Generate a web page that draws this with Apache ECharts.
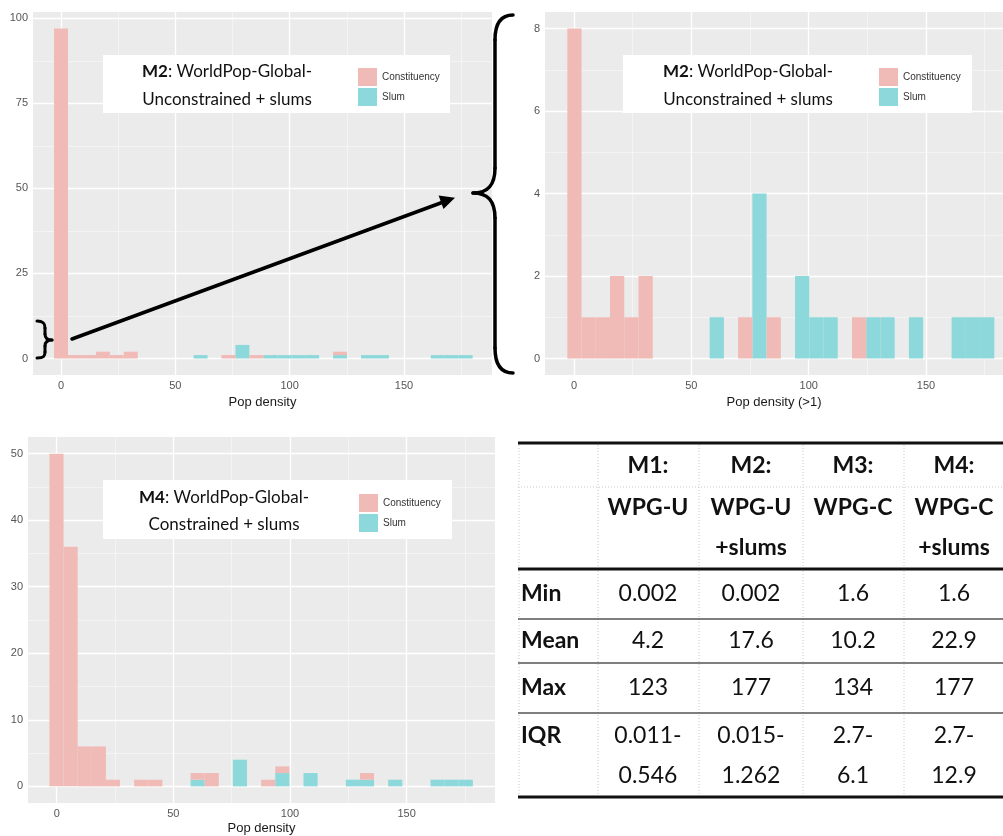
<!DOCTYPE html>
<html><head><meta charset="utf-8">
<script src="https://cdn.jsdelivr.net/npm/echarts@6/dist/echarts.min.js"></script>
<style>html,body{margin:0;padding:0;background:#fff}#c{width:1003px;height:836px}</style>
</head><body><div id="c"></div>
<script>
// ---------- DATA ----------
// Panel 1: M2 all values, 30 bins
const p1BinStart = -3.05, p1BinWidth = 6.103;
const p1Constituency = [97,1,1,2,1,2,0,0,0,0,0,0,1,0,1,0,0,0,0,0,1,0,0,0,0,0,0,0,0,0];
const p1Slum         = [0,0,0,0,0,0,0,0,0,0,1,0,0,4,0,1,1,1,1,0,1,0,1,1,0,0,0,1,1,1];
// Panel 2: M2 pop density > 1
const p2BinStart = -2.85, p2BinWidth = 6.065;
const p2Constituency = [8,1,1,2,1,2,0,0,0,0,0,0,1,0,1,0,0,0,0,0,1,0,0,0,0,0,0,0,0,0];
const p2Slum         = [0,0,0,0,0,0,0,0,0,0,1,0,0,4,0,0,2,1,1,0,0,1,1,0,1,0,0,1,1,1];
// Panel 3: M4
const p3BinStart = -3.1, p3BinWidth = 6.05;
const p3Constituency = [50,36,6,6,1,0,1,1,0,0,1,2,0,0,0,1,1,0,0,0,0,0,1,0,0,0,0,0,0,0];
const p3Slum         = [0,0,0,0,0,0,0,0,0,0,1,0,0,4,0,0,2,0,2,0,0,1,1,0,1,0,0,1,1,1];

const xTicks = [0,50,100,150];
const xMinor = [25,75,125,175];
const p1YTicks = [0,25,50,75,100];
const p1YMinor = [12.5,37.5,62.5,87.5];
const p2YTicks = [0,2,4,6,8];
const p2YMinor = [1,3,5,7];
const p3YTicks = [0,10,20,30,40,50];
const p3YMinor = [5,15,25,35,45];

const seriesNames = ['Constituency','Slum'];
const p1Title = ['M2', ': WorldPop-Global-', 'Unconstrained + slums'];
const p2Title = ['M2', ': WorldPop-Global-', 'Unconstrained + slums'];
const p3Title = ['M4', ': WorldPop-Global-', 'Constrained + slums'];
const p1XName = 'Pop density', p2XName = 'Pop density (>1)', p3XName = 'Pop density';

const tableHeaders = [['M1:','WPG-U',''],['M2:','WPG-U','+slums'],['M3:','WPG-C',''],['M4:','WPG-C','+slums']];
const tableRowLabels = ['Min','Mean','Max','IQR'];
const tableMin  = ['0.002','0.002','1.6','1.6'];
const tableMean = ['4.2','17.6','10.2','22.9'];
const tableMax  = ['123','177','134','177'];
const tableIQR  = [['0.011-','0.546'],['0.015-','1.262'],['2.7-','6.1'],['2.7-','12.9']];

// ---------- STYLE ----------
const PINK = '#F0BAB6', CYAN = '#8DD8DA', BG = '#EBEBEB';
const FONT = 'Lato';

function renderBar(params, api) {
  const x0 = api.value(0), x1 = api.value(1), y0 = api.value(2), y1 = api.value(3);
  if (!(y1 > y0)) return null;
  const a = api.coord([x0, y1]), b = api.coord([x1, y0]);
  return { type: 'rect', shape: { x: a[0], y: a[1], width: b[0] - a[0], height: b[1] - a[1] },
           style: { fill: api.visual('color') } };
}
function barData(start, width, bottomArr, topArr, isTop) {
  return topArr.map((v, k) => {
    const base = isTop ? bottomArr[k] : 0;
    return [start + k * width, start + (k + 1) * width, base, base + v];
  });
}
function gridLines(xMaj, xMin, yMaj, yMin) {
  const maj = { color: '#FFFFFF', width: 1.3, type: 'solid' };
  const mnr = { color: '#F6F6F6', width: 0.8, type: 'solid' };
  return [].concat(
    xMin.map(v => ({ xAxis: v, lineStyle: mnr })),
    yMin.map(v => ({ yAxis: v, lineStyle: mnr })),
    xMaj.map(v => ({ xAxis: v, lineStyle: maj })),
    yMaj.map(v => ({ yAxis: v, lineStyle: maj }))
  );
}
function panelSeries(idx, start, width, cons, slum, xMaj, xMin, yMaj, yMin) {
  return [
    { name: seriesNames[1], type: 'custom', xAxisIndex: idx, yAxisIndex: idx, renderItem: renderBar,
      itemStyle: { color: CYAN }, encode: { x: [0, 1], y: [2, 3] },
      data: barData(start, width, slum, slum, false), z: 2,
      markLine: { silent: true, symbol: ['none', 'none'], label: { show: false }, z: 1, animation: false,
                  emphasis: { disabled: true }, data: gridLines(xMaj, xMin, yMaj, yMin) } },
    { name: seriesNames[0], type: 'custom', xAxisIndex: idx, yAxisIndex: idx, renderItem: renderBar,
      itemStyle: { color: PINK }, encode: { x: [0, 1], y: [2, 3] },
      data: barData(start, width, slum, cons, true), z: 2 }
  ];
}
function xAxisOf(idx, min, max, name, gap) {
  return { type: 'value', gridIndex: idx, min: min, max: max, name: name, nameLocation: 'middle', nameGap: gap,
    nameTextStyle: { fontFamily: 'Liberation Sans', fontSize: 13, color: '#1a1a1a' },
    axisLine: { show: false }, splitLine: { show: false },
    axisTick: { show: true, length: 3, lineStyle: { color: '#555' }, customValues: xTicks },
    axisLabel: { show: true, margin: 5, fontFamily: 'Liberation Sans', fontSize: 11, color: '#555', customValues: xTicks } };
}
function yAxisOf(idx, min, max, ticks) {
  return { type: 'value', gridIndex: idx, min: min, max: max,
    axisLine: { show: false }, splitLine: { show: false },
    axisTick: { show: true, length: 3, lineStyle: { color: '#555' }, customValues: ticks },
    axisLabel: { show: true, margin: 5, fontFamily: 'Liberation Sans', fontSize: 11, color: '#555', customValues: ticks } };
}
function legendAt(left, top) {
  return { data: seriesNames, left: left, top: top, orient: 'vertical', icon: 'rect', itemWidth: 19, itemHeight: 18,
    itemGap: 2, selectedMode: false, z: 10, padding: 0,
    textStyle: { fontFamily: 'Liberation Sans', fontSize: 10, color: '#333' } };
}
function titleBox(x, y, w, h, cx, cy1, cy2, t) {
  return [
    { type: 'rect', shape: { x: x, y: y, width: w, height: h }, style: { fill: '#FFFFFF' }, z: 8, silent: true },
    { type: 'text', x: cx, y: cy1, z: 10, silent: true,
      style: { text: '{b|' + t[0] + '}' + t[1], fontFamily: FONT, fontSize: 17, fill: '#111', align: 'center', verticalAlign: 'middle',
               rich: { b: { fontFamily: FONT, fontSize: 17, fontWeight: 'bold', fill: '#111' } } } },
    { type: 'text', x: cx, y: cy2, z: 10, silent: true,
      style: { text: t[2], fontFamily: FONT, fontSize: 17, fill: '#111', align: 'center', verticalAlign: 'middle' } }
  ];
}

// ---------- TABLE ----------
function tableGraphics() {
  const els = [];
  const L = 518, R = 1003;
  const colX = [648, 751, 853, 954];
  const labelX = 521;
  const hLine = (y, w, c, dash) => els.push({ type: 'line', z: 10, silent: true,
    shape: { x1: L, y1: y, x2: R, y2: y }, style: { stroke: c, lineWidth: w, lineDash: dash || null } });
  const vLine = (x) => els.push({ type: 'line', z: 9, silent: true,
    shape: { x1: x, y1: 445, x2: x, y2: 795 }, style: { stroke: '#C8C8C8', lineWidth: 1, lineDash: [1, 2] } });
  [L + 1, 598, 699, 803, 904].forEach(vLine);
  hLine(487, 1, '#C8C8C8', [1, 2]);
  hLine(443, 3, '#111');
  hLine(569, 3, '#111');
  hLine(619, 1.5, '#555');
  hLine(663, 1.5, '#555');
  hLine(713, 1.5, '#555');
  hLine(797, 3, '#111');
  const txt = (s, x, y, bold, align) => els.push({ type: 'text', x: x, y: y, z: 11, silent: true,
    style: { text: s, fontFamily: FONT, fontSize: 23, fontWeight: bold ? 'bold' : 'normal', fill: '#111',
             align: align || 'center', verticalAlign: 'middle' } });
  const headerY = [466, 508, 548];
  tableHeaders.forEach((h, i) => h.forEach((s, j) => { if (s) txt(s, colX[i], headerY[j], true); }));
  const rowY = [594, 641, 688, 736];
  tableRowLabels.forEach((s, r) => txt(s, labelX, rowY[r], true, 'left'));
  [tableMin, tableMean, tableMax].forEach((row, r) => row.forEach((s, i) => txt(s, colX[i], rowY[r], false)));
  tableIQR.forEach((pair, i) => { txt(pair[0], colX[i], 736, false); txt(pair[1], colX[i], 776, false); });
  return els;
}

// ---------- ANNOTATIONS ----------
function braceParts(segs, w) {
  return segs.map(s => s.length === 4
    ? { type: 'line', z: 12, silent: true, shape: { x1: s[0], y1: s[1], x2: s[2], y2: s[3] },
        style: { stroke: '#000', lineWidth: w, lineCap: 'round' } }
    : { type: 'bezierCurve', z: 12, silent: true,
        shape: { x1: s[0], y1: s[1], cpx1: s[2], cpy1: s[3], cpx2: s[4], cpy2: s[5], x2: s[6], y2: s[7] },
        style: { stroke: '#000', lineWidth: w, fill: null, lineCap: 'round' } });
}
function annotations() {
  let els = [];
  els = els.concat(braceParts([
    [37,321, 44,321, 45,324, 45,328], [45,328, 45,334], [45,334, 45,338, 47,340, 52,340],
    [52,340, 47,340, 45,342, 45,346], [45,346, 45,352], [45,352, 45,356, 44,358, 37,358]
  ], 3));
  els = els.concat(braceParts([
    [513,15, 500,15, 495,25, 495,40], [495,40, 495,168], [495,168, 495,185, 488,193, 473,193],
    [473,193, 488,193, 495,201, 495,218], [495,218, 495,348], [495,348, 495,363, 500,373, 513,373]
  ], 3.5));
  els.push({ type: 'line', z: 12, silent: true, shape: { x1: 72, y1: 339, x2: 442, y2: 202.5 },
    style: { stroke: '#000', lineWidth: 3.5, lineCap: 'round' } });
  els.push({ type: 'polygon', z: 12, silent: true, shape: { points: [[455, 197.7], [443.5, 209], [438.6, 195.6]] },
    style: { fill: '#000' } });
  return els;
}

const option = {
  animation: false,
  backgroundColor: '#FFFFFF',
  grid: [
    { left: 33, right: 511, top: 12, bottom: 461, show: true, backgroundColor: BG, borderWidth: 0 },
    { left: 545, right: 0, top: 12, bottom: 461, show: true, backgroundColor: BG, borderWidth: 0 },
    { left: 28, right: 508, top: 437, bottom: 33, show: true, backgroundColor: BG, borderWidth: 0 }
  ],
  xAxis: [
    xAxisOf(0, -12.25, 188.5, p1XName, 21),
    xAxisOf(1, -12.36, 182.8, p2XName, 21),
    xAxisOf(2, -12.3, 187.9, p3XName, 19)
  ],
  yAxis: [
    yAxisOf(0, -4.85, 101.85, p1YTicks),
    yAxisOf(1, -0.4, 8.4, p2YTicks),
    yAxisOf(2, -2.5, 52.5, p3YTicks)
  ],
  legend: [legendAt(358, 68), legendAt(879, 68), legendAt(359, 494)],
  series: [].concat(
    panelSeries(0, p1BinStart, p1BinWidth, p1Constituency, p1Slum, xTicks, xMinor, p1YTicks, p1YMinor),
    panelSeries(1, p2BinStart, p2BinWidth, p2Constituency, p2Slum, xTicks, xMinor, p2YTicks, p2YMinor),
    panelSeries(2, p3BinStart, p3BinWidth, p3Constituency, p3Slum, xTicks, xMinor, p3YTicks, p3YMinor)
  ),
  graphic: { elements: [].concat(
    titleBox(103, 55, 347, 58, 227, 72, 100, p1Title),
    titleBox(623, 55, 349, 58, 748, 72, 100, p2Title),
    titleBox(103, 480, 349, 59, 224, 498, 525, p3Title),
    annotations(),
    tableGraphics()
  ) }
};
const chart = echarts.init(document.getElementById('c'), null, { renderer: 'canvas' });
chart.setOption(option);
</script></body></html>
